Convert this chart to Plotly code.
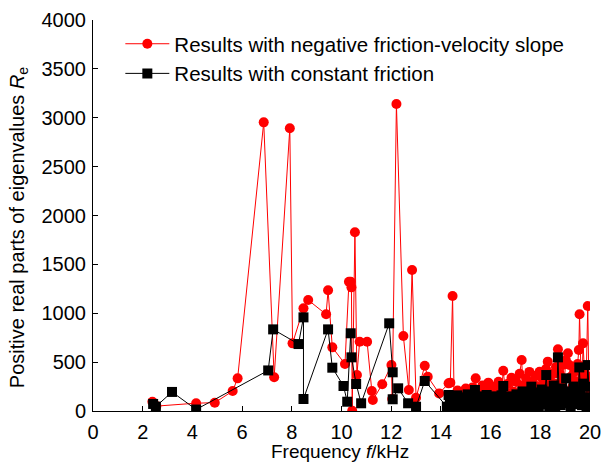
import plotly.graph_objects as go

# Red series: results with negative friction-velocity slope
neg_f = [2.39, 2.55, 4.15, 4.9, 5.62, 5.82, 6.87, 7.29, 7.92, 8.03, 8.47, 8.66, 9.38, 9.46, 9.63,
         10.14, 10.30, 10.37, 10.40, 10.43, 10.54, 10.62, 10.73, 11.03, 11.22, 11.26, 11.64,
         12.01, 12.04, 12.21, 12.49, 12.71, 12.84, 13.0, 13.35, 13.47, 13.93,
         14.31, 14.38, 14.47, 14.53, 14.6, 14.67, 14.74, 14.8, 14.87, 14.94, 15.0, 15.07, 15.14,
         15.2, 15.27, 15.34, 15.4, 15.47, 15.54, 15.6, 15.67, 15.74, 15.8, 15.87, 15.91, 15.98,
         16.05, 16.12, 16.18, 16.25, 16.32, 16.38, 16.45, 16.51, 16.58, 16.64, 16.7, 16.77, 16.84,
         16.9, 16.97, 17.03, 17.1, 17.17, 17.25, 17.3, 17.37, 17.43, 17.5, 17.56, 17.62, 17.69,
         17.75, 17.82, 17.88, 17.97, 18.03, 18.1, 18.17, 18.23, 18.3, 18.36, 18.43, 18.5, 18.56,
         18.63, 18.71, 18.77, 18.84, 18.9, 18.97, 19.03, 19.11, 19.17, 19.23, 19.3, 19.36, 19.43,
         19.5, 19.55, 19.58, 19.63, 19.69, 19.72, 19.78, 19.84, 19.91, 19.95, 20.0]
neg_v = [95, 50, 80, 85, 204, 334, 2953, 345, 2892, 692, 1050, 1135, 989, 1235, 651,
         481, 1323, 1323, 1265, 3, 1828, 368, 709, 709, 204, 112, 273,
         470, 123, 3140, 767, 215, 1442, 136, 463, 351, 180,
         283, 290, 1176, 160, 90, 210, 120, 40, 190, 110, 230, 80, 170,
         30, 240, 150, 334, 120, 200, 60, 260, 140, 90, 220, 290, 130,
         200, 70, 250, 160, 300, 110, 230, 412, 190, 90, 280, 150, 340,
         200, 120, 300, 180, 380, 522, 260, 160, 330, 220, 400, 140, 300,
         210, 360, 250, 402, 200, 330, 260, 430, 505, 300, 220, 380, 280,
         450, 631, 380, 300, 470, 330, 520, 590, 470, 350, 250, 400, 300,
         480, 624, 989, 450, 350, 692, 400, 260, 1074, 350, 180]

# Black series: results with constant friction
con_f = [2.42, 2.53, 3.18, 4.15, 7.05, 7.25, 8.27, 8.47, 8.47, 9.46, 9.63, 10.08, 10.23, 10.37,
         10.40, 10.59, 10.79, 11.92, 12.06, 12.06, 12.28, 12.68, 13.0, 13.35,
         14.24, 14.31, 14.36, 14.42, 14.48, 14.54, 14.6, 14.66, 14.72, 14.78, 14.84, 14.9, 14.96,
         15.02, 15.08, 15.14, 15.2, 15.26, 15.32, 15.37, 15.43, 15.49, 15.55, 15.61, 15.67, 15.73,
         15.79, 15.84, 15.9, 15.96, 16.02, 16.08, 16.14, 16.2, 16.26, 16.32, 16.38, 16.44, 16.51,
         16.56, 16.62, 16.68, 16.74, 16.8, 16.86, 16.92, 16.98, 17.04, 17.1, 17.16, 17.22, 17.28,
         17.34, 17.4, 17.46, 17.52, 17.58, 17.64, 17.7, 17.76, 17.82, 17.88, 17.94, 18.0, 18.06,
         18.12, 18.18, 18.24, 18.3, 18.36, 18.42, 18.48, 18.54, 18.6, 18.66, 18.71, 18.76, 18.82,
         18.88, 18.94, 19.0, 19.04, 19.1, 19.16, 19.22, 19.28, 19.34, 19.4, 19.46, 19.52, 19.57,
         19.62, 19.68, 19.74, 19.8, 19.86, 19.91, 19.94, 19.98, 20.0]
con_v = [72, 45, 195, 15, 415, 835, 685, 958, 123, 835, 443, 256, 95, 795,
         549, 276, 79, 897, 396, 120, 232, 79, 44, 307,
         44, 164, 100, 150, 40, 120, 70, 160, 20, 110, 60, 140, 30,
         100, 170, 50, 120, 20, 150, 215, 90, 140, 30, 110, 60, 150,
         20, 164, 80, 130, 30, 110, 60, 150, 10, 120, 70, 160, 256,
         40, 130, 10, 90, 150, 40, 120, 60, 170, 30, 140, 80, 200,
         20, 120, 60, 160, 100, 249, 40, 140, 80, 190, 30, 150, 220,
         70, 160, 368, 100, 40, 200, 120, 260, 30, 150, 549, 180, 60,
         230, 100, 170, 334, 80, 200, 30, 150, 250, 70, 180, 120, 446,
         200, 60, 280, 120, 40, 470, 249, 140, 60]

x_ticks = list(range(0, 21, 2))
y_ticks = list(range(0, 4001, 500))

FONT = "Liberation Sans, Arial, sans-serif"

fig = go.Figure()
fig.add_trace(go.Scatter(
    x=neg_f, y=neg_v, mode="lines+markers",
    name="Results with negative friction-velocity slope",
    line=dict(color="#ff0000", width=1),
    marker=dict(symbol="circle", size=10, color="#ff0000"),
))
fig.add_trace(go.Scatter(
    x=con_f, y=con_v, mode="lines+markers",
    name="Results with constant friction",
    line=dict(color="#000000", width=1),
    marker=dict(symbol="square", size=10, color="#000000"),
))

axis_common = dict(
    showgrid=False, zeroline=False, showline=True, linecolor="#000000", linewidth=1,
    ticks="inside", ticklen=5, tickcolor="#000000", mirror=False,
    tickfont=dict(family=FONT, size=20, color="#000000"),
)

fig.update_layout(
    width=603, height=463,
    margin=dict(l=93, r=13, t=20, b=52, autoexpand=False),
    plot_bgcolor="#ffffff", paper_bgcolor="#ffffff",
    font=dict(family=FONT, color="#000000"),
    xaxis=dict(range=[0, 20], tickmode="array", tickvals=x_ticks, ticklabelstandoff=3,
               **axis_common),
    yaxis=dict(range=[0, 4000], tickmode="array", tickvals=y_ticks, ticklabelstandoff=2,
               **axis_common),
    showlegend=True,
    legend=dict(
        x=0.055, y=0.99, xanchor="left", yanchor="top",
        bgcolor="rgba(0,0,0,0)", borderwidth=0, itemwidth=44,
        font=dict(family=FONT, size=20.5, color="#000000"),
        tracegroupgap=0,
    ),
    annotations=[
        dict(text="Frequency <i>f</i>/kHz", xref="paper", yref="paper",
             x=0.497, y=-0.103, xanchor="center", yanchor="middle", showarrow=False,
             font=dict(family=FONT, size=19, color="#000000")),
        dict(text="Positive real parts of eigenvalues <i>R</i><sub>e</sub>",
             xref="paper", yref="paper", x=-0.151, y=0.47, xanchor="center",
             yanchor="middle", textangle=-90, showarrow=False,
             font=dict(family=FONT, size=20, color="#000000")),
    ],
)

fig.write_html("out.html")
